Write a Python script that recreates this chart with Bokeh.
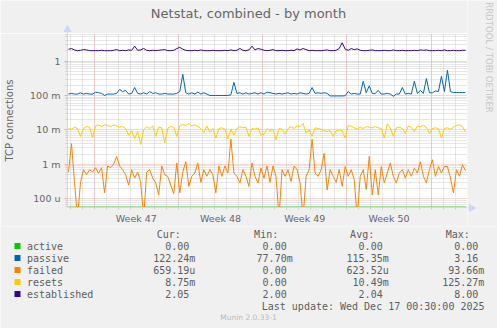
import numpy as np
from bokeh.plotting import figure
from bokeh.models import (Range1d, FixedTicker, CustomJSTickFormatter)
from bokeh.layouts import column, row
from bokeh.core.properties import value
from bokeh.embed import file_html
from bokeh.resources import INLINE

# ---------------- data ----------------
# sample times in days since the start of the 33-day window (one sample / 6 h)
T0 = 0.083
STEP = 0.25

ESTABLISHED = [
    2.2, 2.3, 2.1, 2.0, 2.05, 2.15, 2.1, 2.0, 2.0, 2.0,
    2.0, 2.05, 2.0, 2.0, 2.0, 2.05, 2.15, 2.0, 2.05, 2.0,
    2.1, 2.05, 2.7, 2.05, 2.1, 2.3, 2.05, 2.0, 2.05, 2.0,
    2.05, 2.1, 2.15, 2.0, 2.0, 2.05, 2.3, 2.5, 2.2, 2.05,
    2.0, 2.0, 2.05, 2.0, 2.1, 2.0, 2.0, 2.0, 2.05, 2.0,
    2.0, 2.0, 2.05, 2.0, 2.1, 2.0, 2.05, 2.3, 2.05, 2.0,
    2.1, 2.7, 2.1, 2.3, 2.2, 2.05, 2.0, 2.05, 2.15, 2.0,
    2.0, 2.05, 2.0, 2.0, 2.05, 2.0, 2.25, 2.1, 2.3, 2.15,
    2.0, 2.05, 2.0, 2.0, 2.0, 2.05, 2.1, 2.0, 2.0, 2.05,
    2.3, 3.4, 2.2, 2.05, 2.3, 2.15, 2.25, 2.05, 2.0, 2.0,
    2.05, 2.1, 2.0, 2.0, 2.0, 2.05, 2.0, 2.0, 2.1, 2.0,
    2.0, 2.05, 2.0, 2.0, 2.0, 2.05, 2.0, 2.1, 2.05, 2.1,
    2.0, 2.0, 2.0, 2.05, 2.0, 2.1, 2.0, 2.0, 2.05, 2.0,
    2.0, 2.05, 2.05,
]

PASSIVE = [
    0.11, 0.115, 0.11, 0.11, 0.12, 0.11, 0.115, 0.11, 0.11, 0.125,
    0.12, 0.115, 0.10, 0.11, 0.11, 0.11, 0.115, 0.15, 0.13, 0.14,
    0.11, 0.115, 0.17, 0.115, 0.11, 0.12, 0.11, 0.13, 0.115, 0.12,
    0.11, 0.11, 0.115, 0.11, 0.11, 0.11, 0.115, 0.13, 0.41, 0.12,
    0.11, 0.12, 0.11, 0.125, 0.11, 0.12, 0.11, 0.10, 0.10, 0.10,
    0.10, 0.10, 0.10, 0.10, 0.105, 0.24, 0.115, 0.12, 0.11, 0.12,
    0.11, 0.115, 0.12, 0.11, 0.12, 0.11, 0.125, 0.12, 0.115, 0.11,
    0.115, 0.11, 0.115, 0.12, 0.11, 0.115, 0.11, 0.12, 0.115, 0.11,
    0.115, 0.17, 0.115, 0.12, 0.115, 0.12, 0.115, 0.097, 0.097, 0.097,
    0.097, 0.097, 0.098, 0.13, 0.11, 0.115, 0.11, 0.11, 0.26, 0.12,
    0.19, 0.115, 0.115, 0.14, 0.11, 0.11, 0.115, 0.11, 0.095, 0.11,
    0.11, 0.17, 0.11, 0.115, 0.11, 0.26, 0.115, 0.14, 0.115, 0.31,
    0.12, 0.12, 0.135, 0.13, 0.36, 0.13, 0.54, 0.13, 0.122, 0.122,
    0.122, 0.122, 0.122,
]

FAILED = [
    0.0006, 0.004, 0.0003, 0.0, 0.0003, 0.0007, 0.0005, 0.0007, 0.0006, 0.0008,
    0.00055, 0.0008, 0.00015, 0.0009, 0.0008, 0.001, 0.0017, 0.0009, 0.0007, 0.0005,
    0.00025, 0.0007, 0.0004, 0.0006, 0.0003, 0.0, 0.0006, 0.0007, 0.0004, 0.00029,
    0.00013, 0.0009, 0.0005, 0.00045, 0.00025, 0.00014, 0.0011, 0.00015, 0.0006, 0.0012,
    0.00023, 0.00045, 0.00056, 0.0011, 0.0003, 0.0007, 0.00045, 0.0007, 0.0005, 0.00015,
    0.0009, 0.00045, 0.0009, 0.00056, 0.0054, 0.00056, 0.00045, 0.00029, 0.0007, 0.00045,
    0.00023, 0.0011, 0.00045, 0.00029, 0.00078, 0.0004, 0.0009, 0.0003, 0.0009, 0.00045,
    0.0, 0.0007, 0.00045, 0.0007, 0.00032, 0.0009, 0.0007, 0.00029, 0.0, 0.00045,
    0.0007, 0.0054, 0.00056, 0.00045, 0.0007, 0.0021, 0.00018, 0.0007, 0.00045, 0.0003,
    0.0007, 0.00023, 0.00087, 0.00045, 0.0007, 0.00036, 0.0, 0.00045, 0.0007, 0.000185,
    0.0017, 0.00013, 0.0007, 0.00013, 0.00087, 0.00029, 0.00056, 0.0011, 0.00045, 0.00029,
    0.00056, 0.0007, 0.0004, 0.0007, 0.00045, 0.00078, 0.00056, 0.0012, 0.00045, 0.00029,
    0.0007, 0.00136, 0.00045, 0.00087, 0.00056, 0.00087, 0.00087, 0.0004, 0.00015, 0.0007,
    0.00045, 0.00098, 0.00066,
]

RESETS = [
    0.011, 0.0105, 0.012, 0.011, 0.0065, 0.011, 0.0125, 0.012, 0.006, 0.013,
    0.014, 0.0125, 0.014, 0.0135, 0.0125, 0.014, 0.013, 0.012, 0.0125, 0.011,
    0.007, 0.0095, 0.0055, 0.009, 0.0038, 0.01, 0.0125, 0.011, 0.013, 0.0065,
    0.012, 0.0115, 0.0042, 0.011, 0.0125, 0.012, 0.0065, 0.013, 0.0145, 0.0135,
    0.0155, 0.013, 0.014, 0.0125, 0.011, 0.0085, 0.013, 0.0085, 0.011, 0.0058,
    0.011, 0.0115, 0.0105, 0.0055, 0.0105, 0.007, 0.011, 0.0125, 0.0115, 0.012,
    0.0065, 0.011, 0.0105, 0.0115, 0.007, 0.0075, 0.011, 0.0095, 0.0105, 0.0052,
    0.011, 0.0105, 0.0075, 0.011, 0.0125, 0.011, 0.013, 0.0125, 0.0155, 0.008,
    0.01, 0.0065, 0.0115, 0.011, 0.0105, 0.0095, 0.009, 0.0095, 0.0065, 0.0095,
    0.01, 0.0095, 0.0058, 0.0135, 0.013, 0.0115, 0.0105, 0.012, 0.011, 0.0125,
    0.012, 0.0115, 0.0125, 0.0115, 0.011, 0.0058, 0.015, 0.0115, 0.0065, 0.0115,
    0.012, 0.011, 0.008, 0.013, 0.012, 0.009, 0.013, 0.0125, 0.0135, 0.012,
    0.008, 0.011, 0.0115, 0.011, 0.0058, 0.011, 0.0115, 0.0105, 0.012, 0.0135,
    0.014, 0.0125, 0.0088,
]

ACTIVE = [0.0] * len(PASSIVE)

SERIES_NAMES = ["active", "passive", "failed", "resets", "established"]
CUR = ["0.00", "122.24m", "659.19u", "8.75m", "2.05"]
MIN = ["0.00", "77.70m", "0.00", "0.00", "2.00"]
AVG = ["0.00", "115.35m", "623.52u", "10.49m", "2.04"]
MAX = ["0.00", "3.16", "93.66m", "125.27m", "8.00"]

WEEK_BOUNDS = [2.22, 9.22, 16.22, 23.22, 30.22]
DAY_LINES = [0.22 + k for k in range(34)]
WEEK_LABEL_POS = [5.72, 12.72, 19.72, 26.72]
WEEK_LABELS = ["Week 47", "Week 48", "Week 49", "Week 50"]
YTICKS = [1e-4, 1e-3, 1e-2, 1e-1, 1.0]
YTICK_LABELS = ["100 u", "1 m", "10 m", "100 m", "1"]

TITLE = "Netstat, combined - by month"
YLABEL = "TCP connections"
WATERMARK = "RRDTOOL / TOBI OETIKER"
LAST_UPDATE = "Last update: Wed Dec 17 00:30:00 2025"
VERSION = "Munin 2.0.33-1"

# ---------------- styles ----------------
COLORS = ["#00CC00", "#0066B3", "#FF8000", "#FFCC00", "#330099"]
BACK = "#F0F0F0"
FONT_C = "#666666"
AXIS_C = "#CFD6F8"
MGRID_C = "#F2A8A8"
GRID_C = "#CFCFCF"
SANS = "DejaVu Sans"
MONO = "DejaVu Sans Mono"

YMIN, YMAX = 5.6e-5, 6.3
XMIN, XMAX = 0.0, 33.25

W = 497
FL, FR, FT, FB = 67, 467, 33, 208   # frame edges on the page (px)
H_TOP = 226                          # header + chart
H_BOT = 328 - H_TOP                  # legend block
W_STRIP = W - FR                     # right strip (watermark, x arrow)


def panel(width, height):
    f = figure(width=width, height=height, x_range=Range1d(0, width),
               y_range=Range1d(height, 0), output_backend="svg",
               toolbar_location=None, x_axis_location=None, y_axis_location=None,
               min_border=0, min_border_left=0, min_border_right=0,
               min_border_top=0, min_border_bottom=0)
    f.grid.visible = False
    f.outline_line_color = None
    f.background_fill_color = BACK
    f.border_fill_color = BACK
    return f


# ---------------- header: title + y-axis arrow ----------------
head = panel(FR, FT)
head.text(x=[248.0], y=[13.3], text=[TITLE], text_font=value(SANS),
          text_font_size=value("13px"), text_color=FONT_C, text_align="center",
          text_baseline="middle")
head.segment(x0=[FL], y0=[29.0], x1=[FL], y1=[FT], line_color=AXIS_C, line_width=1)
head.scatter(x=[FL], y=[29.0], marker="triangle", size=7, fill_color=AXIS_C,
             line_color=AXIS_C)

# ---------------- chart ----------------
YMINOR = [m * 10.0 ** e for e in range(-5, 1) for m in range(2, 10)
          if YMIN < m * 10.0 ** e < YMAX]

p = figure(width=FR, height=H_TOP - FT, x_range=Range1d(XMIN, XMAX),
           y_range=Range1d(YMIN, YMAX), y_axis_type="log",
           output_backend="svg", toolbar_location=None,
           min_border_left=FL, min_border_right=0,
           min_border_top=0, min_border_bottom=H_TOP - FB)
p.background_fill_color = "#FFFFFF"
p.border_fill_color = BACK
p.outline_line_color = None

# grids
p.xgrid.ticker = FixedTicker(ticks=WEEK_BOUNDS, minor_ticks=DAY_LINES)
p.ygrid.ticker = FixedTicker(ticks=YTICKS, minor_ticks=YMINOR)
for g in (p.xgrid, p.ygrid):
    g.grid_line_color = MGRID_C
    g.grid_line_dash = "1 1"
    g.grid_line_width = 1
    g.minor_grid_line_color = GRID_C
    g.minor_grid_line_dash = "1 1"
    g.minor_grid_line_width = 1

# axes
p.yaxis.ticker = FixedTicker(ticks=YTICKS, minor_ticks=YMINOR)
p.yaxis.formatter = CustomJSTickFormatter(
    args=dict(vals=YTICKS, labs=YTICK_LABELS),
    code="""
    let best = ""; let d = 1e9;
    for (let i = 0; i < vals.length; i++) {
      const e = Math.abs(Math.log(tick) - Math.log(vals[i]));
      if (e < d) { d = e; best = labs[i]; }
    }
    return best;
    """)
p.xaxis.ticker = FixedTicker(ticks=WEEK_LABEL_POS, minor_ticks=DAY_LINES)
p.xaxis.formatter = CustomJSTickFormatter(
    args=dict(vals=WEEK_LABEL_POS, labs=WEEK_LABELS),
    code="""
    let best = ""; let d = 1e9;
    for (let i = 0; i < vals.length; i++) {
      const e = Math.abs(tick - vals[i]);
      if (e < d) { d = e; best = labs[i]; }
    }
    return best;
    """)
for ax in (p.xaxis, p.yaxis):
    ax.major_label_text_font = SANS
    ax.major_label_text_font_size = "9.5px"
    ax.major_label_text_color = FONT_C
    ax.minor_tick_in = 0
    ax.minor_tick_out = 2
    ax.minor_tick_line_color = GRID_C
    ax.major_tick_in = 0
p.yaxis.major_tick_out = 3
p.yaxis.major_tick_line_color = MGRID_C
p.yaxis.major_label_standoff = 4
p.yaxis.axis_line_color = AXIS_C
p.xaxis.major_tick_out = 0
p.xaxis.major_label_standoff = 3
p.xaxis.axis_line_color = AXIS_C
p.yaxis.axis_label = YLABEL
p.yaxis.axis_label_text_font = SANS
p.yaxis.axis_label_text_font_size = "10px"
p.yaxis.axis_label_text_font_style = "normal"
p.yaxis.axis_label_text_color = FONT_C
p.yaxis.axis_label_standoff = 12

# series
series = [ACTIVE, PASSIVE, FAILED, RESETS, ESTABLISHED]
for k, (vals, col) in enumerate(zip(series, COLORS)):
    v = np.asarray(vals, dtype=float)
    floor = YMIN * 1.034 if k == 0 else YMIN * 0.5   # zero drawn on the bottom edge
    v = np.where(v <= 0, floor, v)
    tt = T0 + STEP * np.arange(len(v))
    p.line(tt, v, line_color=col, line_width=1, line_alpha=0.65 if k == 0 else 1.0)

# ---------------- right strip: watermark + x-axis arrow ----------------
strip = panel(W_STRIP, H_TOP)
strip.text(x=[488.5 - FR], y=[57.0], text=[WATERMARK], text_font=value(SANS),
           text_font_size=value("8.6px"), text_color="#C8C8C8", text_align="center",
           text_baseline="middle", angle=-np.pi / 2)
strip.segment(x0=[0.0], y0=[FB - 0.5], x1=[3.0], y1=[FB - 0.5], line_color=AXIS_C)
strip.scatter(x=[4.0], y=[FB - 0.5], marker="triangle", size=7, angle=-np.pi / 2,
              fill_color=AXIS_C, line_color=AXIS_C)

# ---------------- legend block ----------------
q = panel(W, H_BOT)

CHAR_W = 6.02
ROW0 = 245.5 - H_TOP
ROW_STEP = 12.0
COL_END = [194.3, 291.7, 387.7, 483.3]
HEADERS = ["Cur:", "Min:", "Avg:", "Max:"]
LEG_FONT = value(MONO)
LEG_SIZE = value("10px")
TEXT_C = "#5E5E5E"

rows_y = [ROW0 + ROW_STEP * k for k in range(len(SERIES_NAMES))]
q.rect(x=[17.0] * len(SERIES_NAMES), y=rows_y, width=6, height=6,
       fill_color=COLORS, line_color=None)
q.text(x=[26.5] * len(SERIES_NAMES), y=rows_y, text=SERIES_NAMES,
       text_font=LEG_FONT, text_font_size=LEG_SIZE, text_color=TEXT_C,
       text_align="left", text_baseline="middle")

hx = [c - 14.0 for c in COL_END]
q.text(x=hx, y=[233.5 - H_TOP] * 4, text=HEADERS, text_font=LEG_FONT,
       text_font_size=LEG_SIZE, text_color=TEXT_C, text_align="right",
       text_baseline="middle")

vx, vy, vt = [], [], []
for ci, colvals in enumerate([CUR, MIN, AVG, MAX]):
    for ri, s in enumerate(colvals):
        end = COL_END[ci] if s[-1].isalpha() else COL_END[ci] - CHAR_W
        vx.append(end + 0.5)
        vy.append(rows_y[ri])
        vt.append(s)
q.text(x=vx, y=vy, text=vt, text_font=LEG_FONT, text_font_size=LEG_SIZE,
       text_color=TEXT_C, text_align="right", text_baseline="middle")

q.text(x=[484.0], y=[305.7 - H_TOP], text=[LAST_UPDATE], text_font=LEG_FONT,
       text_font_size=LEG_SIZE, text_color=TEXT_C, text_align="right",
       text_baseline="middle")
q.text(x=[248.0], y=[317.0 - H_TOP], text=[VERSION], text_font=value(SANS),
       text_font_size=value("7.5px"), text_color="#BBBBBB", text_align="center",
       text_baseline="middle")

left_block = column(row(head, spacing=0), p, spacing=0)
top_block = row(left_block, column(strip, spacing=0), spacing=0)
layout = column(top_block, row(q, spacing=0), spacing=0)
open("out.html", "w").write(file_html(layout, INLINE))
